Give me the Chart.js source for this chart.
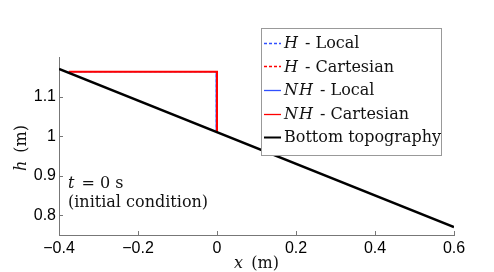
<!DOCTYPE html>
<html>
<head>
<meta charset="utf-8">
<script src="https://cdn.jsdelivr.net/npm/chart.js@4/dist/chart.umd.min.js"></script>
<style>
  html, body { margin: 0; padding: 0; background: #fff; }
  #wrap { width: 494px; height: 272px; }
</style>
</head>
<body>
<div id="wrap"><canvas id="c" width="494" height="272"></canvas></div>
<script>
// ---- data ----
const xWaterLocal = [-0.375, -0.002, -0.002];
const hWaterLocal = [1.163, 1.163, 1.011];
const xWaterCart = [-0.375, 0, 0];
const hWaterCart = [1.163, 1.163, 1.010];
const xBottom = [-0.4, 0.6];
const hBottom = [1.17, 0.77];
const xTicks = [-0.4, -0.2, 0, 0.2, 0.4, 0.6];
const yTicks = [0.8, 0.9, 1, 1.1];
const seriesNames = ['H - Local', 'H - Cartesian', 'NH - Local', 'NH - Cartesian', 'Bottom topography'];

const pts = (xs, ys) => xs.map((x, i) => ({ x: x, y: ys[i] }));

const BLUE = '#3050ff';
const RED = '#ff0000';

const datasets = [
  { label: seriesNames[0], data: pts(xWaterLocal, hWaterLocal), borderColor: BLUE, borderWidth: 1, borderDash: [3, 2], order: 4 },
  { label: seriesNames[1], data: pts(xWaterCart, hWaterCart), borderColor: RED, borderWidth: 1, borderDash: [3, 2], order: 3 },
  { label: seriesNames[2], data: pts(xWaterLocal, hWaterLocal), borderColor: BLUE, borderWidth: 1.2, order: 2 },
  { label: seriesNames[3], data: pts(xWaterCart, hWaterCart), borderColor: RED, borderWidth: 2, order: 1 },
  { label: seriesNames[4], data: pts(xBottom, hBottom), borderColor: '#000', borderWidth: 2.5, order: 0 }
].map(d => Object.assign({ pointRadius: 0, fill: false, tension: 0, backgroundColor: d.borderColor }, d));

const fmt = v => {
  let s = (Math.round(v * 10) / 10).toString();
  return s.replace('-', '\u2212');
};

const SERIF = '"DejaVu Serif", serif';

function drawSegs(ctx, segs, x, y, size) {
  let cx = x;
  for (const s of segs) {
    ctx.font = (s.i ? 'italic ' : '') + size + 'px ' + SERIF;
    ctx.fillText(s.t, cx, y);
    cx += ctx.measureText(s.t).width + (s.g || 0);
  }
  return cx - x;
}
function measureSegs(ctx, segs, size) {
  let w = 0;
  for (const s of segs) {
    ctx.font = (s.i ? 'italic ' : '') + size + 'px ' + SERIF;
    w += ctx.measureText(s.t).width + (s.g || 0);
  }
  return w;
}

const legendText = [
  [{ t: 'H', i: true, g: 2 }, { t: ' - Local' }],
  [{ t: 'H', i: true, g: 2 }, { t: ' - Cartesian' }],
  [{ t: 'N', i: true, g: 1 }, { t: 'H', i: true, g: 2 }, { t: ' - Local' }],
  [{ t: 'N', i: true, g: 1 }, { t: 'H', i: true, g: 2 }, { t: ' - Cartesian' }],
  [{ t: 'Bottom topography' }]
];

const decor = {
  id: 'decor',
  afterDraw(chart) {
    const ctx = chart.ctx;
    const xs = chart.scales.x, ys = chart.scales.y;
    const area = chart.chartArea;
    ctx.save();
    // inward ticks
    ctx.strokeStyle = '#777';
    ctx.lineWidth = 1;
    ctx.beginPath();
    for (const t of xs.ticks) {
      const px = Math.round(xs.getPixelForValue(t.value)) + 0.5;
      ctx.moveTo(px, area.bottom);
      ctx.lineTo(px, area.bottom - 4);
    }
    for (const t of ys.ticks) {
      const py = Math.round(ys.getPixelForValue(t.value)) + 0.5;
      ctx.moveTo(area.left, py);
      ctx.lineTo(area.left + 4, py);
    }
    ctx.stroke();

    // axis titles
    ctx.fillStyle = '#111';
    ctx.textBaseline = 'middle';
    ctx.textAlign = 'left';
    const xt = [{ t: 'x', i: true, g: 3 }, { t: ' (m)' }];
    const wx = measureSegs(ctx, xt, 16);
    drawSegs(ctx, xt, (area.left + area.right) / 2 - wx / 2, 264, 16);
    const yt = [{ t: 'h', i: true, g: 3 }, { t: ' (m)' }];
    const wy = measureSegs(ctx, yt, 16);
    ctx.save();
    ctx.translate(22, 148);
    ctx.rotate(-Math.PI / 2);
    drawSegs(ctx, yt, -wy / 2, 0, 16);
    ctx.restore();

    // annotation
    drawSegs(ctx, [{ t: 't', i: true, g: 2 }, { t: ' = 0 s' }], 68, 184, 16);
    drawSegs(ctx, [{ t: '(initial condition)' }], 68, 203, 16);

    // legend
    const lx = 261, ly = 28, lw = 180, lh = 127;
    ctx.fillStyle = '#fff';
    ctx.fillRect(lx, ly, lw, lh);
    ctx.strokeStyle = '#999';
    ctx.lineWidth = 1;
    ctx.strokeRect(lx + 0.5, ly + 0.5, lw, lh);
    chart.data.datasets.forEach((d, i) => {
      const ry = 42.7 + i * 23.65;
      ctx.save();
      ctx.strokeStyle = d.borderColor;
      ctx.lineWidth = i === 4 ? 2 : 1.3;
      if (d.borderDash) ctx.setLineDash(d.borderDash);
      ctx.beginPath();
      ctx.moveTo(264, Math.round(ry) + 0.5);
      ctx.lineTo(281, Math.round(ry) + 0.5);
      ctx.stroke();
      ctx.restore();
      ctx.fillStyle = '#111';
      drawSegs(ctx, legendText[i], 284, ry + 1, 16);
    });
    ctx.restore();
  }
};

new Chart(document.getElementById('c'), {
  type: 'line',
  data: { datasets: datasets },
  plugins: [decor],
  options: {
    responsive: false,
    animation: false,
    events: [],
    layout: { padding: { left: 0, right: 40, top: 57, bottom: 0 } },
    plugins: { legend: { display: false }, tooltip: { enabled: false } },
    scales: {
      x: {
        type: 'linear', min: -0.4, max: 0.6,
        afterBuildTicks: s => { s.ticks = xTicks.map(v => ({ value: v })); },
        afterFit: s => { s.height = 37; },
        grid: { display: true, drawOnChartArea: false, drawTicks: false },
        border: { display: true, color: '#777', width: 1 },
        ticks: { padding: 4, color: '#000', font: { family: '"Liberation Sans", Arial, sans-serif', size: 16 }, callback: v => fmt(v), maxRotation: 0, autoSkip: false }
      },
      y: {
        type: 'linear', min: 0.75, max: 1.2,
        afterBuildTicks: s => { s.ticks = yTicks.map(v => ({ value: v })); },
        afterFit: s => { s.width = 59; },
        grid: { display: true, drawOnChartArea: false, drawTicks: false },
        border: { display: true, color: '#777', width: 1 },
        ticks: { padding: 3, color: '#000', font: { family: '"Liberation Sans", Arial, sans-serif', size: 16 }, callback: v => fmt(v), autoSkip: false }
      }
    }
  }
});
</script>
</body>
</html>
